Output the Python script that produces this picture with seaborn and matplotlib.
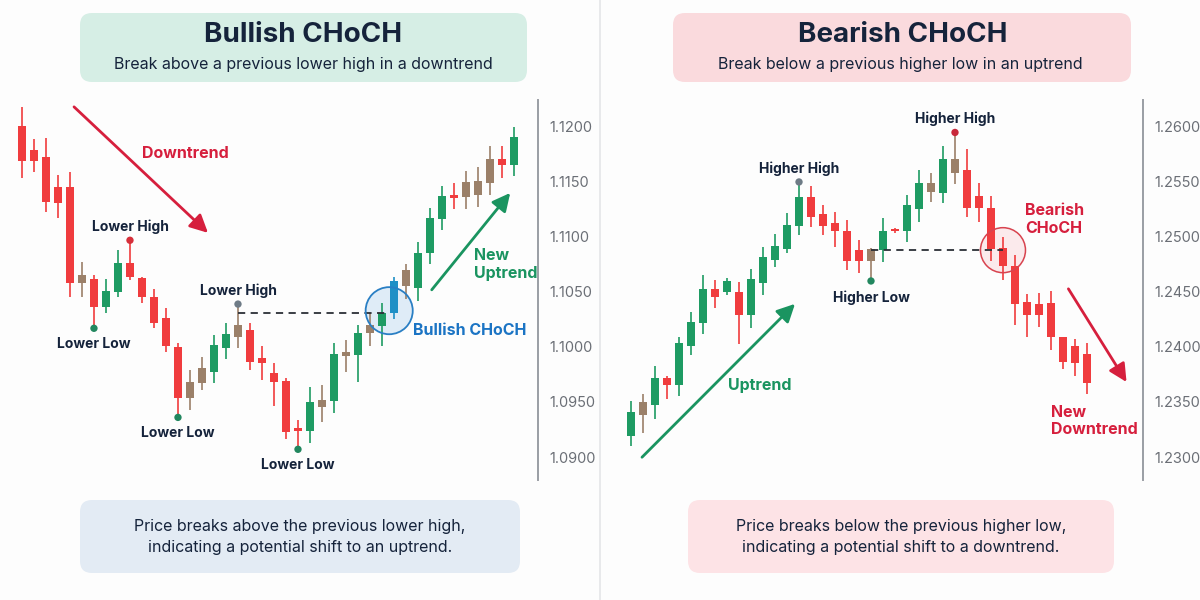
import numpy as np
import pandas as pd
import matplotlib
matplotlib.use("Agg")
import matplotlib.pyplot as plt
import seaborn as sns
from matplotlib.patches import FancyBboxPatch

# DATA
# left panel: bullish change of character (price candles, EURUSD style)
bull_color = ["r", "r", "r", "r", "r", "n", "r", "g", "g", "r", "r", "r", "r", "r",
              "n", "n", "g", "g", "n", "r", "r", "r", "r", "r", "g", "n", "g", "n",
              "g", "n", "g", "b", "n", "g", "g", "g", "r", "n", "n", "n", "r", "g"]
bull_open = [1.1201, 1.1179, 1.1173, 1.1145, 1.1145, 1.1058, 1.1062, 1.1036, 1.1050, 1.1076,
             1.1063, 1.1045, 1.1026, 1.1000, 1.0954, 1.0967, 1.0977, 1.0999, 1.1009, 1.1015,
             1.0990, 1.0976, 1.0969, 1.0926, 1.0924, 1.0945, 1.0951, 1.0992, 1.0993, 1.1013,
             1.1019, 1.1031, 1.1055, 1.1054, 1.1085, 1.1116, 1.1138, 1.1136, 1.1138, 1.1149,
             1.1171, 1.1165]
bull_close = [1.1169, 1.1169, 1.1132, 1.1131, 1.1058, 1.1065, 1.1036, 1.1051, 1.1076, 1.1064,
              1.1045, 1.1022, 1.1001, 1.0954, 1.0968, 1.0981, 1.1002, 1.1012, 1.1020, 1.0986,
              1.0985, 1.0968, 1.0923, 1.0924, 1.0950, 1.0952, 1.0994, 1.0995, 1.1013, 1.1020,
              1.1031, 1.1060, 1.1070, 1.1085, 1.1117, 1.1137, 1.1135, 1.1150, 1.1151, 1.1171,
              1.1165, 1.1191]
bull_high = [1.1218, 1.1189, 1.1190, 1.1156, 1.1159, 1.1077, 1.1065, 1.1062, 1.1088, 1.1097,
             1.1064, 1.1053, 1.1035, 1.1004, 1.0979, 1.0991, 1.1011, 1.1022, 1.1039, 1.1022,
             1.1001, 1.0985, 1.0972, 1.0934, 1.0964, 1.0965, 1.1004, 1.1006, 1.1020, 1.1031,
             1.1040, 1.1064, 1.1075, 1.1095, 1.1126, 1.1146, 1.1149, 1.1160, 1.1164, 1.1183,
             1.1183, 1.1200]
bull_low = [1.1154, 1.1159, 1.1123, 1.1117, 1.1045, 1.1045, 1.1017, 1.1031, 1.1045, 1.1061,
            1.1040, 1.1017, 1.0995, 1.0936, 1.0943, 1.0961, 1.0967, 1.0989, 1.0999, 1.0979,
            1.0970, 1.0946, 1.0916, 1.0907, 1.0913, 1.0932, 1.0940, 1.0977, 1.0968, 1.1001,
            1.1001, 1.1025, 1.1044, 1.1042, 1.1075, 1.1106, 1.1125, 1.1125, 1.1127, 1.1138,
            1.1154, 1.1155]
bull_ticks = [1.0900, 1.0950, 1.1000, 1.1050, 1.1100, 1.1150, 1.1200]
bull_level = 1.1031   # previous lower high that gets broken

# right panel: bearish change of character
bear_color = ["g", "n", "g", "r", "g", "g", "g", "r", "g", "r", "g", "g", "g", "g",
              "g", "r", "r", "r", "r", "r", "n", "g", "r", "g", "g", "n", "g", "n",
              "r", "r", "r", "r", "r", "r", "r", "r", "r", "r", "r"]
bear_open = [1.2319, 1.2338, 1.2347, 1.2372, 1.2365, 1.2401, 1.2422, 1.2453, 1.2450, 1.2450,
             1.2429, 1.2458, 1.2479, 1.2489, 1.2510, 1.2536, 1.2521, 1.2513, 1.2505, 1.2488,
             1.2478, 1.2488, 1.2507, 1.2505, 1.2525, 1.2541, 1.2540, 1.2558, 1.2561, 1.2537,
             1.2526, 1.2490, 1.2474, 1.2441, 1.2439, 1.2440, 1.2409, 1.2401, 1.2394]
bear_close = [1.2341, 1.2350, 1.2372, 1.2365, 1.2404, 1.2423, 1.2453, 1.2445, 1.2460, 1.2429,
              1.2462, 1.2482, 1.2492, 1.2511, 1.2536, 1.2518, 1.2510, 1.2505, 1.2478, 1.2478,
              1.2489, 1.2505, 1.2505, 1.2529, 1.2549, 1.2549, 1.2571, 1.2571, 1.2526, 1.2526,
              1.2489, 1.2474, 1.2439, 1.2429, 1.2429, 1.2409, 1.2386, 1.2385, 1.2367]
bear_high = [1.2351, 1.2357, 1.2383, 1.2374, 1.2409, 1.2432, 1.2465, 1.2461, 1.2463, 1.2459,
             1.2471, 1.2491, 1.2503, 1.2522, 1.2550, 1.2546, 1.2529, 1.2523, 1.2515, 1.2497,
             1.2490, 1.2517, 1.2508, 1.2538, 1.2561, 1.2558, 1.2583, 1.2595, 1.2580, 1.2549,
             1.2537, 1.2500, 1.2484, 1.2448, 1.2449, 1.2451, 1.2409, 1.2407, 1.2404]
bear_low = [1.2310, 1.2322, 1.2335, 1.2353, 1.2355, 1.2393, 1.2412, 1.2435, 1.2447, 1.2403,
            1.2417, 1.2447, 1.2473, 1.2485, 1.2502, 1.2509, 1.2502, 1.2491, 1.2470, 1.2467,
            1.2460, 1.2477, 1.2504, 1.2495, 1.2514, 1.2532, 1.2531, 1.2548, 1.2518, 1.2514,
            1.2478, 1.2461, 1.2420, 1.2409, 1.2418, 1.2397, 1.2380, 1.2374, 1.2357]
bear_ticks = [1.2300, 1.2350, 1.2400, 1.2450, 1.2500, 1.2550, 1.2600]
bear_level = 1.2488   # previous higher low that gets broken

# STYLE
sns.set_theme(style="white")
plt.rcParams["font.family"] = ["Inter", "DejaVu Sans"]

NAVY = "#15233b"
GREEN = "#1e9b63"
RED = "#f03c3e"
CRIMSON = "#d61f3d"
BLUE = "#1b74c4"
PALETTE = {"g": GREEN, "r": RED, "n": "#9b8069", "b": "#1f90c6"}


def candle_frame(opens, closes, highs, lows, colors):
    df = pd.DataFrame({"open": opens, "close": closes, "high": highs,
                       "low": lows, "kind": colors})
    df["t"] = np.arange(len(df))
    df["bottom"] = df[["open", "close"]].min(axis=1)
    df["height"] = (df["open"] - df["close"]).abs().clip(lower=0.00022)
    return df


def draw_candles(ax, df):
    cols = df["kind"].map(PALETTE)
    ax.vlines(df["t"], df["low"], df["high"], colors=cols, lw=1.2, zorder=2)
    ax.bar(df["t"], df["height"], bottom=df["bottom"], width=0.68,
           color=cols, linewidth=0, zorder=3)


def mark(ax, df, i, col, color, label, below):
    y = df.loc[i, col]
    sns.scatterplot(x=[i], y=[y], ax=ax, s=28, color=color, edgecolor="none",
                    zorder=5, legend=False)
    ax.annotate(label, (i, y), xytext=(0, -6.5 if below else 4.5),
                textcoords="offset points", ha="center",
                va="top" if below else "bottom", fontsize=10,
                fontweight="bold", color=NAVY)


def style_axis(ax, ticks, ylim, xlim):
    ax.set_xlim(*xlim)
    ax.set_ylim(*ylim)
    ax.set_facecolor("none")
    ax.yaxis.tick_right()
    ax.set_yticks(ticks)
    ax.set_yticklabels([f"{v:.4f}" for v in ticks])
    ax.tick_params(axis="y", length=0, pad=8, labelsize=10.5, labelcolor="#6b6f76")
    ax.set_xticks([])
    for s in ["left", "top", "bottom"]:
        ax.spines[s].set_visible(False)
    ax.spines["right"].set_color("#9a9ea4")
    ax.spines["right"].set_linewidth(1.4)
    ax.grid(False)


bull = candle_frame(bull_open, bull_close, bull_high, bull_low, bull_color)
bear = candle_frame(bear_open, bear_close, bear_high, bear_low, bear_color)

fig = plt.figure(figsize=(12, 6), dpi=100)
fig.patch.set_facecolor("#fdfdfd")

# background layer in pixel units for boxes and divider
bg = fig.add_axes([0, 0, 1, 1], zorder=0)
bg.set_xlim(0, 1200)
bg.set_ylim(600, 0)
bg.axis("off")
bg.plot([600, 600], [0, 600], color="#e4e5e8", lw=1.2)


def rbox(x0, y0, x1, y1, fc):
    bg.add_patch(FancyBboxPatch((x0, y0), x1 - x0, y1 - y0,
                                boxstyle="round,pad=0,rounding_size=12",
                                fc=fc, ec="none"))


rbox(80, 13, 527, 82, "#d6eee5")
rbox(673, 13, 1131, 82, "#fadadd")
rbox(80, 500, 520, 573, "#e3ebf4")
rbox(688, 500, 1114, 573, "#fde3e6")

bg.text(303, 35, "Bullish CHoCH", ha="center", va="center", fontsize=20,
        fontweight="bold", color=NAVY)
bg.text(303, 65, "Break above a previous lower high in a downtrend", ha="center",
        va="center", fontsize=11.5, color=NAVY)
bg.text(903, 35, "Bearish CHoCH", ha="center", va="center", fontsize=20,
        fontweight="bold", color=NAVY)
bg.text(900, 65, "Break below a previous higher low in an uptrend", ha="center",
        va="center", fontsize=11.5, color=NAVY)
bg.text(300, 537, "Price breaks above the previous lower high,\nindicating a potential shift to an uptrend.",
        ha="center", va="center", fontsize=11.5, color=NAVY, linespacing=1.45)
bg.text(901, 537, "Price breaks below the previous higher low,\nindicating a potential shift to a downtrend.",
        ha="center", va="center", fontsize=11.5, color=NAVY, linespacing=1.45)

# LEFT PANEL
axl = fig.add_axes([0, 0.2, 538 / 1200, 380 / 600], zorder=1)
style_axis(axl, bull_ticks, (1.08791, 1.12245), (-1.83, 43.0))
draw_candles(axl, bull)
axl.hlines(bull_level, 18, 30.5, colors="#2b2f36", linestyles=(0, (4, 3)), lw=1.3, zorder=4)
axl.scatter([30.6], [1.1033], s=1150, facecolor="#bcd9f0", alpha=0.45, edgecolor="none", zorder=1)
axl.scatter([30.6], [1.1033], s=1150, facecolor="none", edgecolor="#2a7fc4", lw=1.3, zorder=6)
mark(axl, bull, 6, "low", "#22875f", "Lower Low", True)
mark(axl, bull, 9, "high", "#d62f3a", "Lower High", False)
mark(axl, bull, 13, "low", "#22875f", "Lower Low", True)
mark(axl, bull, 18, "high", "#6e7b86", "Lower High", False)
mark(axl, bull, 23, "low", "#22875f", "Lower Low", True)
axl.annotate("", xy=(15.67, 1.1102), xytext=(4.17, 1.1220),
             arrowprops=dict(arrowstyle="-|>,head_length=0.9,head_width=0.45", color=CRIMSON, lw=2))
axl.text(13.6, 1.1176, "Downtrend", ha="center", va="center", fontsize=11.5,
         fontweight="bold", color=CRIMSON)
axl.annotate("", xy=(40.83, 1.1142), xytext=(34.0, 1.1050),
             arrowprops=dict(arrowstyle="-|>,head_length=0.9,head_width=0.45", color="#1a9460", lw=2))
axl.text(37.65, 1.1075, "New\nUptrend", ha="left", va="center", fontsize=11.5,
         fontweight="bold", color="#1a9460", linespacing=1.2)
axl.text(32.6, 1.1015, "Bullish CHoCH", ha="left", va="center", fontsize=11.5,
         fontweight="bold", color=BLUE)

# RIGHT PANEL
axr = fig.add_axes([605 / 1200, 0.2, 538 / 1200, 380 / 600], zorder=1)
style_axis(axr, bear_ticks, (1.22791, 1.26245), (-2.17, 42.67))
draw_candles(axr, bear)
axr.hlines(bear_level, 20, 31, colors="#2b2f36", linestyles=(0, (4, 3)), lw=1.3, zorder=4)
axr.scatter([31], [bear_level], s=1050, facecolor="#f8c9cf", alpha=0.35, edgecolor="none", zorder=1)
axr.scatter([31], [bear_level], s=1050, facecolor="none", edgecolor="#d8434f", lw=1.1, zorder=6)
mark(axr, bear, 14, "high", "#6e7b86", "Higher High", False)
mark(axr, bear, 20, "low", "#22875f", "Higher Low", True)
mark(axr, bear, 27, "high", "#c8283a", "Higher High", False)
axr.annotate("", xy=(13.83, 1.2441), xytext=(0.75, 1.2298),
             arrowprops=dict(arrowstyle="-|>,head_length=0.9,head_width=0.45", color="#1a9460", lw=2))
axr.text(10.75, 1.2365, "Uptrend", ha="center", va="center", fontsize=11.5,
         fontweight="bold", color="#1a9460")
axr.text(32.85, 1.2516, "Bearish\nCHoCH", ha="left", va="center", fontsize=11.5,
         fontweight="bold", color=CRIMSON, linespacing=1.2)
axr.annotate("", xy=(41.42, 1.2366), xytext=(36.33, 1.2455),
             arrowprops=dict(arrowstyle="-|>,head_length=0.9,head_width=0.45", color=CRIMSON, lw=2))
axr.text(35.0, 1.2333, "New\nDowntrend", ha="left", va="center", fontsize=11.5,
         fontweight="bold", color=CRIMSON, linespacing=1.2)

fig.savefig("out.png", dpi=100, facecolor=fig.get_facecolor())
plt.close(fig)
